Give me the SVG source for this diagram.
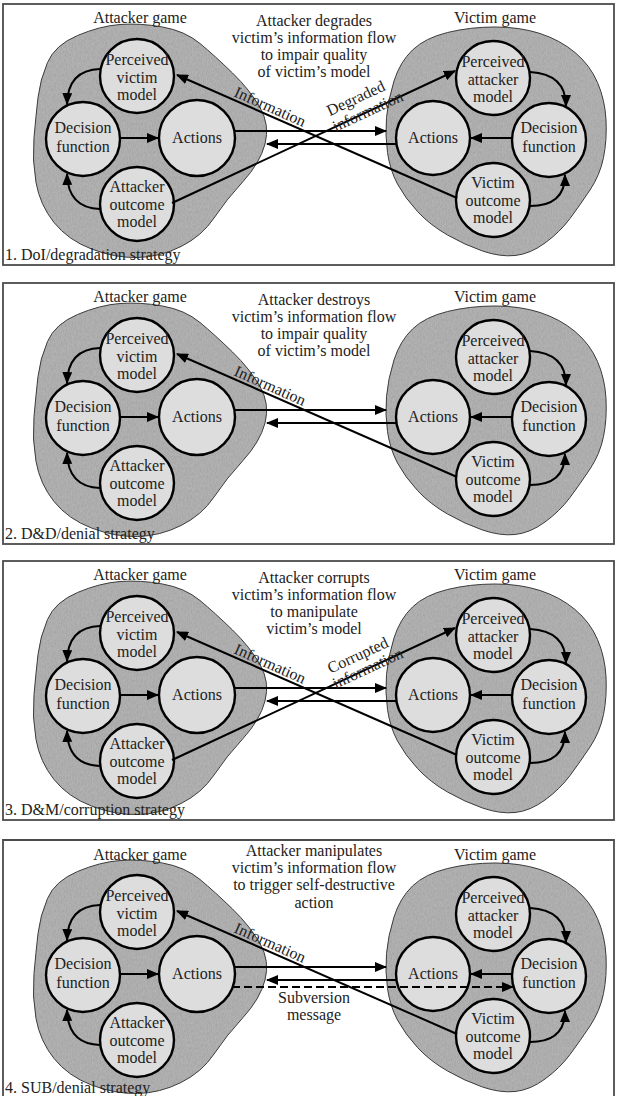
<svg xmlns="http://www.w3.org/2000/svg" xmlns:xlink="http://www.w3.org/1999/xlink" width="617" height="1096" viewBox="0 0 617 1096">
  <style>
    text { font-family: "Liberation Serif", "Times New Roman", serif; font-size: 16px; fill: #222; }
    .c { text-anchor: middle; }
    .frame { fill: none; stroke: #4c4c4c; stroke-width: 1.8; }
    .blob { fill: #b2b2b2; stroke: #3a3a3a; stroke-width: 1; filter: url(#grain); }
    .node { fill: #dddddd; stroke: #000; stroke-width: 2.4; }
    .edge { fill: none; stroke: #000; stroke-width: 2; marker-end: url(#ah); }
    .dash { stroke-dasharray: 8 4; stroke-width: 2.2; }
  </style>
  <defs>
    <marker id="ah" markerWidth="12" markerHeight="10" refX="11" refY="5" orient="auto" markerUnits="userSpaceOnUse">
      <path d="M0,0 L12,5 L0,10 z" fill="#000"/>
    </marker>
    <!-- fine, low-contrast grain for the shaded regions -->
    <filter id="grain" color-interpolation-filters="sRGB">
      <feTurbulence type="fractalNoise" baseFrequency="0.8 0.35" numOctaves="2" seed="4" result="n"/>
      <feColorMatrix in="n" type="matrix" values="0 0 0 0 0.35  0 0 0 0 0.35  0 0 0 0 0.35  0.3 0 0 0 -0.1" result="d"/>
      <feComposite in="d" in2="SourceAlpha" operator="in" result="dm"/>
      <feMerge><feMergeNode in="SourceGraphic"/><feMergeNode in="dm"/></feMerge>
    </filter>
    <!-- irregular "game" regions -->
    <path id="blobA" d="M38,97.5 Q40,80 47.5,62.5 Q55,45 77.5,35.5 Q100,26 120,24.5 Q140,23 162.5,27 Q185,31 200,43.5 Q215,56 232.5,73 Q250,90 260,107.5 Q270,125 265,144 Q260,163 243,181.5 Q226,200 214,218 Q202,236 181,246.5 Q160,257 137.5,257.5 Q115,258 91.5,249 Q68,240 54,222.5 Q40,205 36,182.5 Q32,160 34,137.5 Q36,115 38,97.5 Z"/>
    <path id="blobV" d="M386.5,117.5 Q388,100 394,81 Q400,62 412.5,50 Q425,38 447.5,32.5 Q470,27 495,27 Q520,27 540,33.5 Q560,40 575,52.5 Q590,65 597.5,82.5 Q605,100 606,120 Q607,140 603.5,157.5 Q600,175 590,190 Q580,205 570,218.5 Q560,232 545,243 Q530,254 515,255.5 Q500,257 482.5,251 Q465,245 447.5,235 Q430,225 417.5,211.5 Q405,198 397.5,184 Q390,170 387.5,152.5 Q385,135 386.5,117.5 Z"/>
  </defs>

  <!-- ===== Panel 1: DoI / degradation ===== -->
  <g id="panel1">
    <rect class="frame" x="3" y="4" width="611" height="261"/>
    <g id="p1-attacker-game"><use class="blob" xlink:href="#blobA"/><text class="c" x="140" y="23">Attacker game</text></g>
    <g id="p1-victim-game"><use class="blob" xlink:href="#blobV"/><text class="c" x="495" y="23">Victim game</text></g>
    <g id="p1-perceived-victim"><circle class="node" cx="137" cy="76" r="37"/><text class="c" x="137" y="65">Perceived</text><text class="c" x="137" y="82.5">victim</text><text class="c" x="137" y="100">model</text></g>
    <g id="p1-decision-a"><circle class="node" cx="83" cy="139" r="37"/><text class="c" x="83" y="133">Decision</text><text class="c" x="83" y="152">function</text></g>
    <g id="p1-actions-a"><circle class="node" cx="197" cy="138" r="38"/><text class="c" x="197" y="143">Actions</text></g>
    <g id="p1-outcome-a"><circle class="node" cx="137" cy="204" r="37"/><text class="c" x="137" y="192">Attacker</text><text class="c" x="137" y="209.5">outcome</text><text class="c" x="137" y="227">model</text></g>
    <g id="p1-perceived-attacker"><circle class="node" cx="493" cy="78" r="37"/><text class="c" x="493" y="67">Perceived</text><text class="c" x="493" y="84.5">attacker</text><text class="c" x="493" y="102">model</text></g>
    <g id="p1-actions-v"><circle class="node" cx="433" cy="138" r="37"/><text class="c" x="433" y="143">Actions</text></g>
    <g id="p1-decision-v"><circle class="node" cx="549" cy="140" r="37"/><text class="c" x="549" y="133">Decision</text><text class="c" x="549" y="152">function</text></g>
    <g id="p1-outcome-v"><circle class="node" cx="493" cy="200" r="37"/><text class="c" x="493" y="188">Victim</text><text class="c" x="493" y="205.5">outcome</text><text class="c" x="493" y="223">model</text></g>
    <g id="p1-caption"><text class="c" x="314" y="26">Attacker degrades</text><text class="c" x="314" y="43">victim’s information flow</text><text class="c" x="314" y="60">to impair quality</text><text class="c" x="314" y="77">of victim’s model</text></g>
    <text id="p1-label" x="5" y="260">1. DoI/degradation strategy</text>
    <g id="p1-links">
      <path class="edge" d="M100,69 Q68,70 67,104"/>
      <path class="edge" d="M120,138 L158,138"/>
      <path class="edge" d="M100,209 Q68,208 67,174"/>
      <path class="edge" d="M530,72 Q566,74 566,106"/>
      <path class="edge" d="M512,138 L471,138"/>
      <path class="edge" d="M530,206 Q565,206 565,175"/>
      <path class="edge" d="M235,131 L386,131"/>
      <path class="edge" d="M397,144 L267,144"/>
      <path class="edge" d="M457,198 L177,75"/>
      <path class="edge" d="M172,203 L455,71"/>
      <text class="c" transform="rotate(24 268 111.5)" x="268" y="111.5">Information</text>
      <text class="c" transform="rotate(-25 358 103)" x="358" y="103">Degraded</text>
      <text class="c" transform="rotate(-25 370 116)" x="370" y="116">information</text>
    </g>
  </g>

  <!-- ===== Panel 2: D&D / denial ===== -->
  <g id="panel2" transform="translate(0,279)">
    <rect class="frame" x="3" y="4" width="611" height="261"/>
    <g id="p2-attacker-game"><use class="blob" xlink:href="#blobA"/><text class="c" x="140" y="23">Attacker game</text></g>
    <g id="p2-victim-game"><use class="blob" xlink:href="#blobV"/><text class="c" x="495" y="23">Victim game</text></g>
    <g id="p2-perceived-victim"><circle class="node" cx="137" cy="76" r="37"/><text class="c" x="137" y="65">Perceived</text><text class="c" x="137" y="82.5">victim</text><text class="c" x="137" y="100">model</text></g>
    <g id="p2-decision-a"><circle class="node" cx="83" cy="139" r="37"/><text class="c" x="83" y="133">Decision</text><text class="c" x="83" y="152">function</text></g>
    <g id="p2-actions-a"><circle class="node" cx="197" cy="138" r="38"/><text class="c" x="197" y="143">Actions</text></g>
    <g id="p2-outcome-a"><circle class="node" cx="137" cy="204" r="37"/><text class="c" x="137" y="192">Attacker</text><text class="c" x="137" y="209.5">outcome</text><text class="c" x="137" y="227">model</text></g>
    <g id="p2-perceived-attacker"><circle class="node" cx="493" cy="78" r="37"/><text class="c" x="493" y="67">Perceived</text><text class="c" x="493" y="84.5">attacker</text><text class="c" x="493" y="102">model</text></g>
    <g id="p2-actions-v"><circle class="node" cx="433" cy="138" r="37"/><text class="c" x="433" y="143">Actions</text></g>
    <g id="p2-decision-v"><circle class="node" cx="549" cy="140" r="37"/><text class="c" x="549" y="133">Decision</text><text class="c" x="549" y="152">function</text></g>
    <g id="p2-outcome-v"><circle class="node" cx="493" cy="200" r="37"/><text class="c" x="493" y="188">Victim</text><text class="c" x="493" y="205.5">outcome</text><text class="c" x="493" y="223">model</text></g>
    <g id="p2-caption"><text class="c" x="314" y="26">Attacker destroys</text><text class="c" x="314" y="43">victim’s information flow</text><text class="c" x="314" y="60">to impair quality</text><text class="c" x="314" y="77">of victim’s model</text></g>
    <text id="p2-label" x="5" y="260">2. D&amp;D/denial strategy</text>
    <g id="p2-links">
      <path class="edge" d="M100,69 Q68,70 67,104"/>
      <path class="edge" d="M120,138 L158,138"/>
      <path class="edge" d="M100,209 Q68,208 67,174"/>
      <path class="edge" d="M530,72 Q566,74 566,106"/>
      <path class="edge" d="M512,138 L471,138"/>
      <path class="edge" d="M530,206 Q565,206 565,175"/>
      <path class="edge" d="M235,131 L386,131"/>
      <path class="edge" d="M397,144 L267,144"/>
      <path class="edge" d="M457,198 L177,75"/>
      <text class="c" transform="rotate(24 268 111.5)" x="268" y="111.5">Information</text>
    </g>
  </g>

  <!-- ===== Panel 3: D&M / corruption ===== -->
  <g id="panel3" transform="translate(0,557)">
    <rect class="frame" x="3" y="4" width="611" height="259"/>
    <g id="p3-attacker-game"><use class="blob" xlink:href="#blobA"/><text class="c" x="140" y="23">Attacker game</text></g>
    <g id="p3-victim-game"><use class="blob" xlink:href="#blobV"/><text class="c" x="495" y="23">Victim game</text></g>
    <g id="p3-perceived-victim"><circle class="node" cx="137" cy="76" r="37"/><text class="c" x="137" y="65">Perceived</text><text class="c" x="137" y="82.5">victim</text><text class="c" x="137" y="100">model</text></g>
    <g id="p3-decision-a"><circle class="node" cx="83" cy="139" r="37"/><text class="c" x="83" y="133">Decision</text><text class="c" x="83" y="152">function</text></g>
    <g id="p3-actions-a"><circle class="node" cx="197" cy="138" r="38"/><text class="c" x="197" y="143">Actions</text></g>
    <g id="p3-outcome-a"><circle class="node" cx="137" cy="204" r="37"/><text class="c" x="137" y="192">Attacker</text><text class="c" x="137" y="209.5">outcome</text><text class="c" x="137" y="227">model</text></g>
    <g id="p3-perceived-attacker"><circle class="node" cx="493" cy="78" r="37"/><text class="c" x="493" y="67">Perceived</text><text class="c" x="493" y="84.5">attacker</text><text class="c" x="493" y="102">model</text></g>
    <g id="p3-actions-v"><circle class="node" cx="433" cy="138" r="37"/><text class="c" x="433" y="143">Actions</text></g>
    <g id="p3-decision-v"><circle class="node" cx="549" cy="140" r="37"/><text class="c" x="549" y="133">Decision</text><text class="c" x="549" y="152">function</text></g>
    <g id="p3-outcome-v"><circle class="node" cx="493" cy="200" r="37"/><text class="c" x="493" y="188">Victim</text><text class="c" x="493" y="205.5">outcome</text><text class="c" x="493" y="223">model</text></g>
    <g id="p3-caption"><text class="c" x="314" y="26">Attacker corrupts</text><text class="c" x="314" y="43">victim’s information flow</text><text class="c" x="314" y="60">to manipulate</text><text class="c" x="314" y="77">victim’s model</text></g>
    <text id="p3-label" x="5" y="258">3. D&amp;M/corruption strategy</text>
    <g id="p3-links">
      <path class="edge" d="M100,69 Q68,70 67,104"/>
      <path class="edge" d="M120,138 L158,138"/>
      <path class="edge" d="M100,209 Q68,208 67,174"/>
      <path class="edge" d="M530,72 Q566,74 566,106"/>
      <path class="edge" d="M512,138 L471,138"/>
      <path class="edge" d="M530,206 Q565,206 565,175"/>
      <path class="edge" d="M235,131 L386,131"/>
      <path class="edge" d="M397,144 L267,144"/>
      <path class="edge" d="M457,198 L177,75"/>
      <path class="edge" d="M172,203 L455,71"/>
      <text class="c" transform="rotate(24 268 111.5)" x="268" y="111.5">Information</text>
      <text class="c" transform="rotate(-25 360 103)" x="360" y="103">Corrupted</text>
      <text class="c" transform="rotate(-25 370 116)" x="370" y="116">information</text>
    </g>
  </g>

  <!-- ===== Panel 4: SUB / denial ===== -->
  <g id="panel4" transform="translate(0,836)">
    <path class="frame" d="M3,262 V4 H614 V262"/>
    <g id="p4-attacker-game"><use class="blob" xlink:href="#blobA"/><text class="c" x="140" y="24">Attacker game</text></g>
    <g id="p4-victim-game"><use class="blob" xlink:href="#blobV"/><text class="c" x="495" y="24">Victim game</text></g>
    <g id="p4-perceived-victim"><circle class="node" cx="137" cy="76" r="37"/><text class="c" x="137" y="65">Perceived</text><text class="c" x="137" y="82.5">victim</text><text class="c" x="137" y="100">model</text></g>
    <g id="p4-decision-a"><circle class="node" cx="83" cy="139" r="37"/><text class="c" x="83" y="133">Decision</text><text class="c" x="83" y="152">function</text></g>
    <g id="p4-actions-a"><circle class="node" cx="197" cy="138" r="38"/><text class="c" x="197" y="143">Actions</text></g>
    <g id="p4-outcome-a"><circle class="node" cx="137" cy="204" r="37"/><text class="c" x="137" y="192">Attacker</text><text class="c" x="137" y="209.5">outcome</text><text class="c" x="137" y="227">model</text></g>
    <g id="p4-perceived-attacker"><circle class="node" cx="493" cy="78" r="37"/><text class="c" x="493" y="67">Perceived</text><text class="c" x="493" y="84.5">attacker</text><text class="c" x="493" y="102">model</text></g>
    <g id="p4-actions-v"><circle class="node" cx="433" cy="138" r="37"/><text class="c" x="433" y="143">Actions</text></g>
    <g id="p4-decision-v"><circle class="node" cx="549" cy="140" r="37"/><text class="c" x="549" y="133">Decision</text><text class="c" x="549" y="152">function</text></g>
    <g id="p4-outcome-v"><circle class="node" cx="493" cy="200" r="37"/><text class="c" x="493" y="188">Victim</text><text class="c" x="493" y="205.5">outcome</text><text class="c" x="493" y="223">model</text></g>
    <g id="p4-caption"><text class="c" x="314" y="20">Attacker manipulates</text><text class="c" x="314" y="37">victim’s information flow</text><text class="c" x="314" y="54">to trigger self-destructive</text><text class="c" x="314" y="72">action</text></g>
    <text id="p4-label" x="5" y="257">4. SUB/denial strategy</text>
    <g id="p4-links">
      <path class="edge" d="M100,69 Q68,70 67,104"/>
      <path class="edge" d="M120,138 L158,138"/>
      <path class="edge" d="M100,209 Q68,208 67,174"/>
      <path class="edge" d="M530,72 Q566,74 566,106"/>
      <path class="edge" d="M512,138 L471,138"/>
      <path class="edge" d="M530,206 Q565,206 565,175"/>
      <path class="edge" d="M235,131 L386,131"/>
      <path class="edge" d="M397,144 L267,144"/>
      <path class="edge dash" d="M232,151 L513,151"/>
      <path class="edge" d="M457,198 L177,75"/>
      <text class="c" transform="rotate(24 268 111.5)" x="268" y="111.5">Information</text>
      <text class="c" x="314" y="167">Subversion</text>
      <text class="c" x="314" y="184">message</text>
    </g>
  </g>
</svg>
